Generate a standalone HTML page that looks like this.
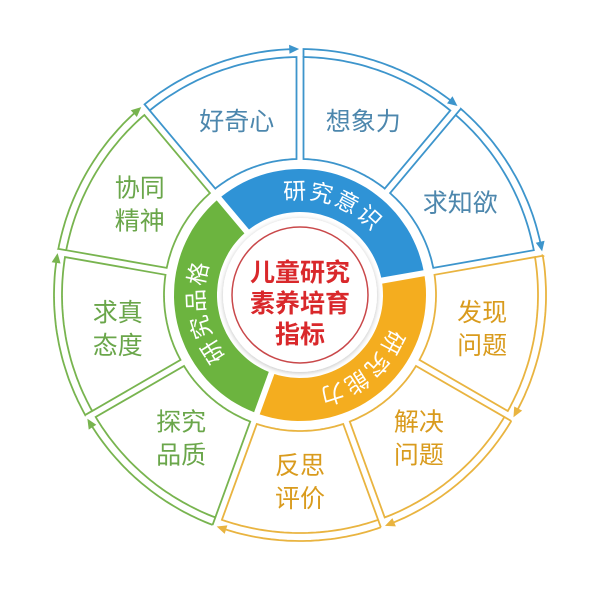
<!DOCTYPE html>
<html><head><meta charset="utf-8">
<style>
html,body{margin:0;padding:0;background:#fff;width:600px;height:589px;overflow:hidden}
svg{display:block}
text{font-family:"Liberation Sans","Noto Sans CJK SC",sans-serif}
</style></head>
<body>
<svg id="s" width="600" height="589" viewBox="0 0 600 589" xmlns="http://www.w3.org/2000/svg">
<defs>
<filter id="sh" x="-20%" y="-20%" width="140%" height="140%"><feDropShadow dx="0" dy="1" stdDeviation="2.5" flood-color="#000" flood-opacity="0.25"/></filter>
</defs>
<g id="g"></g>
<circle cx="300" cy="295" r="77" fill="#fff" filter="url(#sh)"/>
<circle cx="300" cy="295" r="68" fill="#fff" stroke="#c9484a" stroke-width="1.5"/>
<text x="300" y="281" text-anchor="middle" font-size="25" font-weight="bold" fill="#d9282b">儿童研究</text>
<text x="300" y="312" text-anchor="middle" font-size="25" font-weight="bold" fill="#d9282b">素养培育</text>
<text x="300" y="343" text-anchor="middle" font-size="25" font-weight="bold" fill="#d9282b">指标</text>
</svg>
<script>
var cx=300,cy=295,NS="http://www.w3.org/2000/svg",g=document.getElementById('g');
function P(r,a){a=a*Math.PI/180;return [cx+r*Math.sin(a),cy-r*Math.cos(a)];}
function el(t,at,txt){var e=document.createElementNS(NS,t);for(var k in at)e.setAttribute(k,at[k]);if(txt)e.textContent=txt;g.appendChild(e);return e;}
function arc(r,a0,a1){var s='',n=40;for(var i=0;i<=n;i++){var p=P(r,a0+(a1-a0)*i/n);s+=(i?'L':'M')+p[0].toFixed(1)+' '+p[1].toFixed(1);}return s;}
function sector(r1,r2,a0,a1,gap){
 var d1=gap/r1*180/Math.PI,d2=gap/r2*180/Math.PI;
 var s=arc(r2,a0+d2,a1-d2);var n=40;
 for(var i=0;i<=n;i++){var p=P(r1,a1-d1-(a1-d1-a0-d1)*i/n);s+='L'+p[0].toFixed(1)+' '+p[1].toFixed(1);}
 return s+'Z';}
// colored ring
var ring=[[-40,80,'#2f93d6'],[80,200,'#f4ad1f'],[200,320,'#6cb43f']];
ring.forEach(function(r){el('path',{d:sector(83,126,r[0],r[1],3),fill:r[2]});});
// ring labels
var rl=[[20,'研究意识'],[140,'研究能力'],[260,'研究品格']];
rl.forEach(function(r,i){
 var p0=P(96,r[0]-70),p1=P(96,r[0]+70);
 el('path',{id:'rp'+i,d:'M'+p0[0]+' '+p0[1]+' A96 96 0 0 1 '+p1[0]+' '+p1[1],fill:'none'});
 var t=el('text',{'font-size':'23',fill:'#fff','text-anchor':'middle','letter-spacing':'2'});
 var tp=document.createElementNS(NS,'textPath');tp.setAttribute('href','#rp'+i);tp.setAttributeNS('http://www.w3.org/1999/xlink','xlink:href','#rp'+i);tp.setAttribute('startOffset','50%');tp.textContent=r[1];t.appendChild(tp);
});
// segments
var segs=[
 [-40,'#3d95cc','#4d87ad',['好奇心']],
 [0,'#3d95cc','#4d87ad',['想象力']],
 [40,'#3d95cc','#4d87ad',['求知欲']],
 [80,'#e9b440','#d99b1d',['发现','问题']],
 [120,'#e9b440','#d99b1d',['解决','问题']],
 [160,'#e9b440','#d99b1d',['反思','评价']],
 [200,'#78b44f','#6aa64a',['探究','品质']],
 [240,'#78b44f','#6aa64a',['求真','态度']],
 [280,'#78b44f','#6aa64a',['协同','精神']]];
segs.forEach(function(s){
 var a0=s[0],a1=a0+40;
 el('path',{d:sector(136,238,a0,a1,3.5),fill:'#fff',stroke:s[1],'stroke-width':'1.8','stroke-linejoin':'miter'});
 // arrow arc
 var ds=3.5/246*180/Math.PI;
 var st=a0+ds, en=a1-2.2;
 var pc=P(238,a0+3.5/238*180/Math.PI);var pa=P(246,st);
 el('path',{d:'M'+pc[0]+' '+pc[1]+'L'+pa[0]+' '+pa[1]+arc(246,st,en).replace(/^M/,'L'),fill:'none',stroke:s[1],'stroke-width':'1.8'});
 var tip=P(246,a1-0.2),b1=P(241.5,en-0.3),b2=P(250.5,en-0.3);
 el('path',{d:'M'+tip[0]+' '+tip[1]+'L'+b1[0]+' '+b1[1]+'L'+b2[0]+' '+b2[1]+'Z',fill:s[1]});
 var c=P(185,a0+20);
 if(s[3].length==1){el('text',{x:c[0],y:c[1]+9,'text-anchor':'middle','font-size':'25',fill:s[2]},s[3][0]);}
 else{el('text',{x:c[0],y:c[1]-6,'text-anchor':'middle','font-size':'25',fill:s[2]},s[3][0]);
      el('text',{x:c[0],y:c[1]+27,'text-anchor':'middle','font-size':'25',fill:s[2]},s[3][1]);}
});
</script>
</body></html>
